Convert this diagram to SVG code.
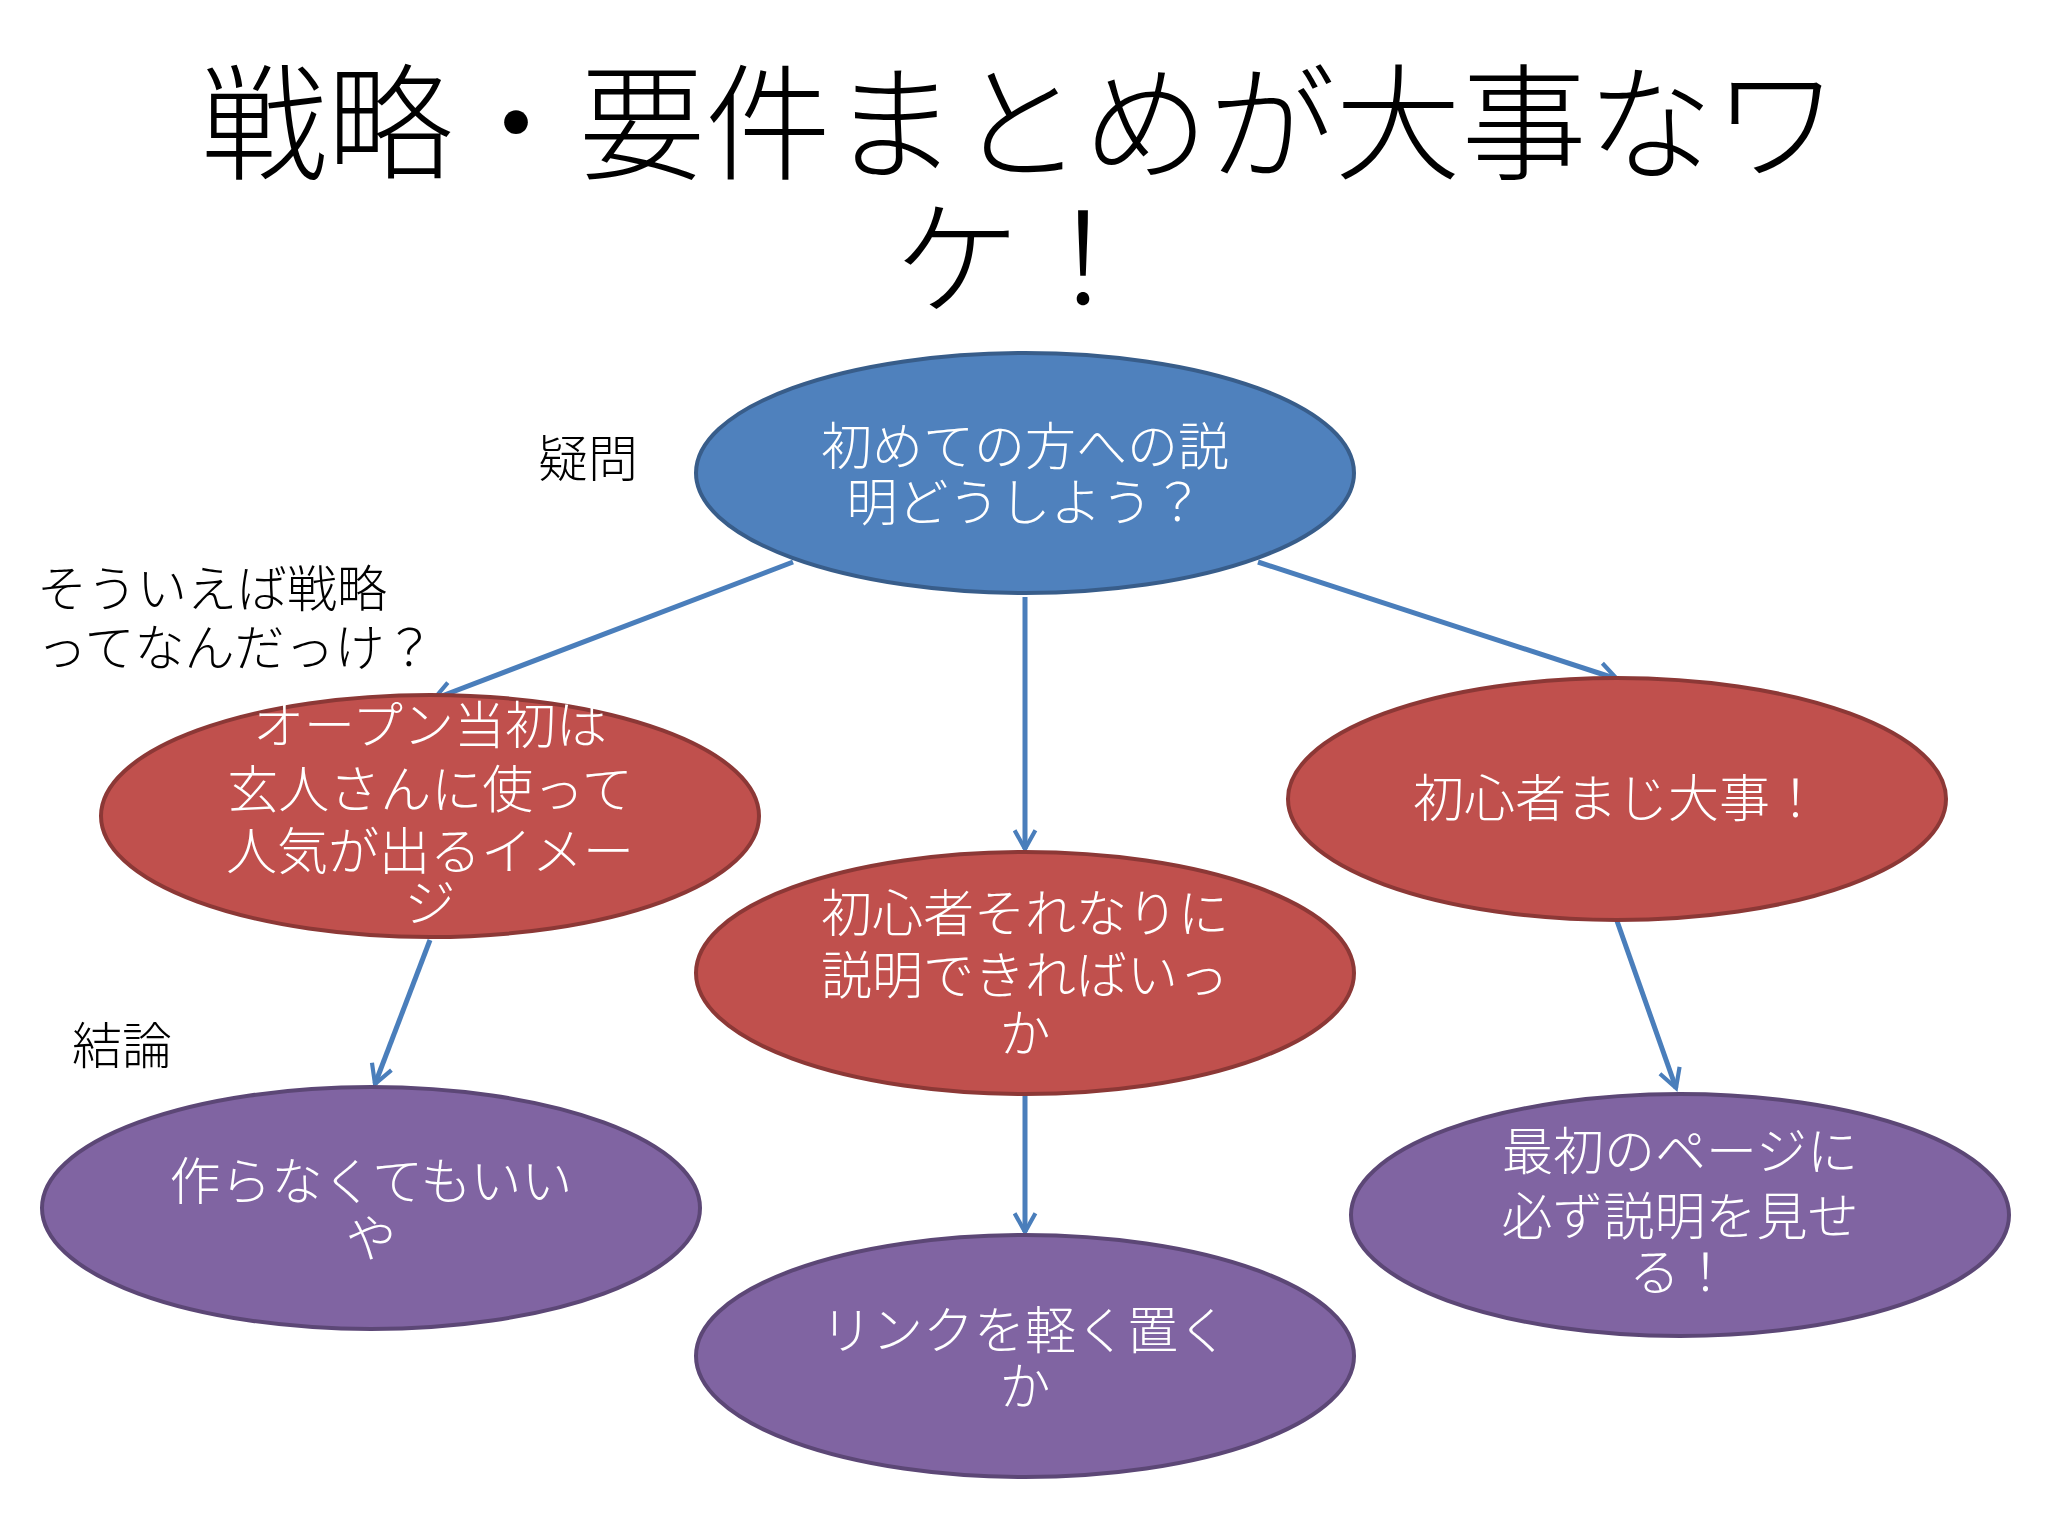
<svg xmlns="http://www.w3.org/2000/svg" width="2048" height="1536" viewBox="0 0 2048 1536">
<defs>
<style>
text{font-family:"Noto Sans CJK JP","Noto Sans",sans-serif;font-weight:300}
.t{font-size:126px;fill:#000;text-anchor:middle}
.n{font-size:51px;fill:#fff;text-anchor:middle}
.l{font-size:50px;fill:#000}
.b{fill:#4F81BD;stroke:#385D8A;stroke-width:4}
.r{fill:#C0504D;stroke:#8C3836;stroke-width:4}
.p{fill:#8064A2;stroke:#5C4776;stroke-width:4}
.c{stroke:#4A7EBB;stroke-width:5;fill:none;marker-end:url(#a)}
</style>
<marker id="a" viewBox="0 0 12 12" refX="10" refY="6" markerWidth="5" markerHeight="5" orient="auto" markerUnits="strokeWidth">
<path d="M1,1 L10,6 L1,11" fill="none" stroke="#4A7EBB" stroke-width="2"/>
</marker>
</defs>
<rect width="2048" height="1536" fill="#fff"/>
<text class="t" x="1020" y="170">戦略・要件まとめが大事なワ</text>
<text class="t" x="1020" y="305">ケ！</text>
<g id="connectors">
<line class="c" x1="793" y1="562" x2="434" y2="699"/>
<line class="c" x1="1025" y1="597" x2="1025" y2="849"/>
<line class="c" x1="1258" y1="562" x2="1617" y2="679"/>
<line class="c" x1="430" y1="940" x2="375" y2="1084"/>
<line class="c" x1="1025" y1="1094" x2="1025" y2="1232"/>
<line class="c" x1="1617" y1="921" x2="1676" y2="1088"/>
</g>
<g id="n1"><ellipse class="b" cx="1025" cy="473" rx="329" ry="120"/><text class="n" x="1025" y="465">初めての方への説</text><text class="n" x="1025" y="521">明どうしよう？</text></g>
<g id="n2"><ellipse class="r" cx="430" cy="816" rx="329" ry="121"/><text class="n" x="430" y="744">オープン当初は</text><text class="n" x="430" y="808">玄人さんに使って</text><text class="n" x="430" y="870">人気が出るイメー</text><text class="n" x="430" y="922">ジ</text></g>
<g id="n3"><ellipse class="r" cx="1025" cy="973" rx="329" ry="121"/><text class="n" x="1025" y="932">初心者それなりに</text><text class="n" x="1025" y="994">説明できればいっ</text><text class="n" x="1025" y="1052">か</text></g>
<g id="n4"><ellipse class="r" cx="1617" cy="799" rx="329" ry="121"/><text class="n" x="1617" y="817">初心者まじ大事！</text></g>
<g id="n5"><ellipse class="p" cx="371" cy="1208" rx="329" ry="121"/><text class="n" x="371" y="1200">作らなくてもいい</text><text class="n" x="371" y="1257">や</text></g>
<g id="n6"><ellipse class="p" cx="1025" cy="1356" rx="329" ry="121"/><text class="n" x="1025" y="1349">リンクを軽く置く</text><text class="n" x="1025" y="1405">か</text></g>
<g id="n7"><ellipse class="p" cx="1680" cy="1215" rx="329" ry="121"/><text class="n" x="1680" y="1170">最初のページに</text><text class="n" x="1680" y="1235">必ず説明を見せ</text><text class="n" x="1680" y="1291">る！</text></g>
<g id="labels">
<text class="l" x="538" y="477">疑問</text>
<text class="l" x="37" y="607">そういえば戦略</text>
<text class="l" x="37" y="666">ってなんだっけ？</text>
<text class="l" x="72" y="1064">結論</text>
</g>
</svg>
